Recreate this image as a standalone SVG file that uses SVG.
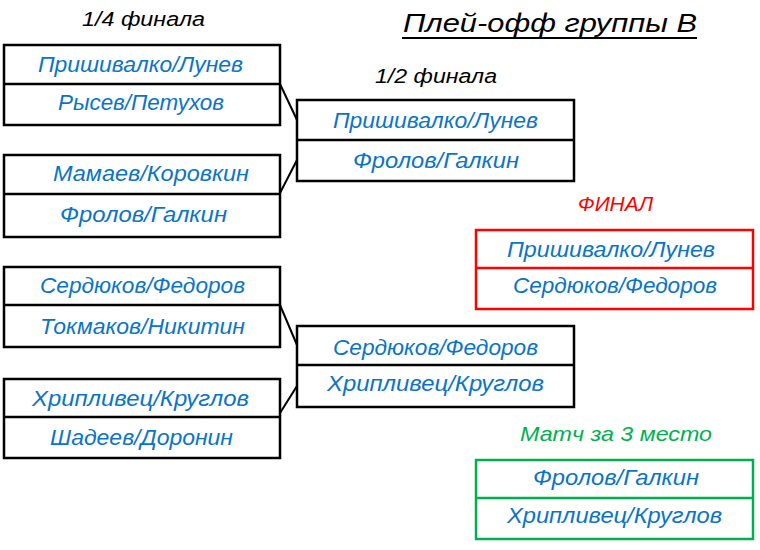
<svg xmlns="http://www.w3.org/2000/svg" width="760" height="550" viewBox="0 0 760 550">
<style>
text{font-family:"Liberation Sans","DejaVu Sans",sans-serif;font-style:italic}
.t{fill:#0a74c8;font-size:22px;text-anchor:middle}
.h{fill:#000;font-size:20px}
.box{fill:#fff;stroke:#000;stroke-width:2.5}
.sep{stroke:#000;stroke-width:2.5}
.red .box,.red .sep{stroke:#ff0000}
.grn .box,.grn .sep{stroke:#00b050}
.conn line{stroke:#000;stroke-width:2}
</style>
<rect width="760" height="550" fill="#fff"/>
<g id="labels">
<text class="h" x="82" y="26" textLength="123" lengthAdjust="spacingAndGlyphs">1/4  финала</text>
<text class="h" x="375" y="83" textLength="122" lengthAdjust="spacingAndGlyphs">1/2  финала</text>
<text x="403" y="32" font-size="26" fill="#000" textLength="294" lengthAdjust="spacingAndGlyphs">Плей-офф  группы  В</text>
<line x1="402" y1="38" x2="697" y2="38" stroke="#000" stroke-width="2"/>
<text x="578" y="211" font-size="20" fill="#ff0000" textLength="75" lengthAdjust="spacingAndGlyphs">ФИНАЛ</text>
<text x="520" y="441" font-size="21" fill="#00b050" textLength="192" lengthAdjust="spacingAndGlyphs">Матч за 3 место</text>
</g>
<g class="conn" id="connectors">
<line x1="280" y1="84" x2="297" y2="120"/>
<line x1="280" y1="193" x2="297" y2="160"/>
<line x1="280" y1="305" x2="297" y2="345"/>
<line x1="280" y1="413" x2="297" y2="386"/>
</g>
<g id="qf1">
<rect class="box" x="4" y="45" width="276" height="80"/>
<line class="sep" x1="4" y1="84" x2="280" y2="84"/>
<text class="t" x="140.5" y="72" textLength="205" lengthAdjust="spacingAndGlyphs">Пришивалко/Лунев</text>
<text class="t" x="141" y="110" textLength="166" lengthAdjust="spacingAndGlyphs">Рысев/Петухов</text>
</g>
<g id="qf2">
<rect class="box" x="4" y="155" width="276" height="82"/>
<line class="sep" x1="4" y1="194" x2="280" y2="194"/>
<text class="t" x="151" y="181" textLength="196" lengthAdjust="spacingAndGlyphs">Мамаев/Коровкин</text>
<text class="t" x="143.5" y="222" textLength="167" lengthAdjust="spacingAndGlyphs">Фролов/Галкин</text>
</g>
<g id="qf3">
<rect class="box" x="4" y="267" width="276" height="80"/>
<line class="sep" x1="4" y1="305" x2="280" y2="305"/>
<text class="t" x="142.5" y="293" textLength="205" lengthAdjust="spacingAndGlyphs">Сердюков/Федоров</text>
<text class="t" x="142.5" y="334" textLength="205" lengthAdjust="spacingAndGlyphs">Токмаков/Никитин</text>
</g>
<g id="qf4">
<rect class="box" x="4" y="379" width="276" height="79"/>
<line class="sep" x1="4" y1="417" x2="280" y2="417"/>
<text class="t" x="140.5" y="406" textLength="217" lengthAdjust="spacingAndGlyphs">Хрипливец/Круглов</text>
<text class="t" x="141.5" y="445" textLength="183" lengthAdjust="spacingAndGlyphs">Шадеев/Доронин</text>
</g>
<g id="sf1">
<rect class="box" x="297" y="100" width="277" height="81"/>
<line class="sep" x1="297" y1="140" x2="574" y2="140"/>
<text class="t" x="435.5" y="128" textLength="205" lengthAdjust="spacingAndGlyphs">Пришивалко/Лунев</text>
<text class="t" x="436" y="168" textLength="166" lengthAdjust="spacingAndGlyphs">Фролов/Галкин</text>
</g>
<g id="sf2">
<rect class="box" x="297" y="326" width="277" height="81"/>
<line class="sep" x1="297" y1="365" x2="574" y2="365"/>
<text class="t" x="435.5" y="355" textLength="205" lengthAdjust="spacingAndGlyphs">Сердюков/Федоров</text>
<text class="t" x="435.5" y="391" textLength="217" lengthAdjust="spacingAndGlyphs">Хрипливец/Круглов</text>
</g>
<g id="final" class="red">
<rect class="box" x="476" y="230" width="277" height="79"/>
<line class="sep" x1="476" y1="268" x2="753" y2="268"/>
<text class="t" x="611" y="257" textLength="208" lengthAdjust="spacingAndGlyphs">Пришивалко/Лунев</text>
<text class="t" x="615" y="293" textLength="204" lengthAdjust="spacingAndGlyphs">Сердюков/Федоров</text>
</g>
<g id="third" class="grn">
<rect class="box" x="476" y="460" width="277" height="79"/>
<line class="sep" x1="476" y1="498" x2="753" y2="498"/>
<text class="t" x="616" y="485" textLength="166" lengthAdjust="spacingAndGlyphs">Фролов/Галкин</text>
<text class="t" x="614.5" y="523" textLength="215" lengthAdjust="spacingAndGlyphs">Хрипливец/Круглов</text>
</g>
</svg>
